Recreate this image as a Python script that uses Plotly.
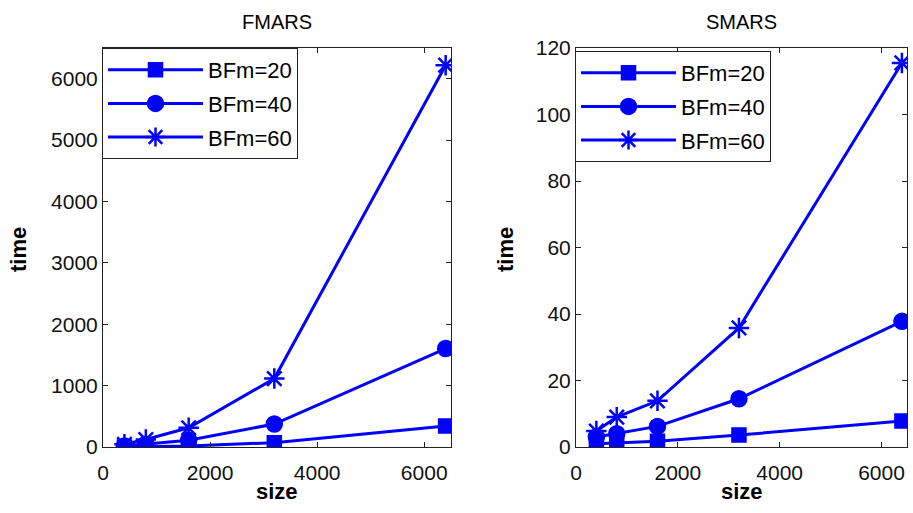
import plotly.graph_objects as go

sizes = [400, 800, 1600, 3200, 6400]
series_names = ["BFm=20", "BFm=40", "BFm=60"]
fmars_bfm20 = [2, 5, 16, 71, 341]
fmars_bfm40 = [16, 44, 110, 374, 1604]
fmars_bfm60 = [44, 121, 313, 1115, 6220]
smars_bfm20 = [1.0, 1.3, 1.7, 3.6, 7.8]
smars_bfm40 = [3.0, 4.0, 6.2, 14.5, 37.8]
smars_bfm60 = [4.8, 9.0, 13.9, 35.8, 115.5]

symbols = ["square", "circle", "asterisk-open"]
msizes = [13, 15, 17]
BLUE = "rgb(0,0,255)"
FONT = "Liberation Sans, Arial, sans-serif"

fig = go.Figure()
left = [fmars_bfm20, fmars_bfm40, fmars_bfm60]
right = [smars_bfm20, smars_bfm40, smars_bfm60]
for i, (name, ys) in enumerate(zip(series_names, left)):
    fig.add_trace(go.Scatter(
        x=sizes, y=ys, name=name, mode="lines+markers",
        line=dict(color=BLUE, width=3),
        marker=dict(symbol=symbols[i], size=msizes[i], color=BLUE,
                    line=dict(color=BLUE, width=2.5)),
        xaxis="x", yaxis="y", legend="legend", legendgroup="L%d" % i))
for i, (name, ys) in enumerate(zip(series_names, right)):
    fig.add_trace(go.Scatter(
        x=sizes, y=ys, name=name, mode="lines+markers",
        line=dict(color=BLUE, width=3),
        marker=dict(symbol=symbols[i], size=msizes[i], color=BLUE,
                    line=dict(color=BLUE, width=2.5)),
        xaxis="x2", yaxis="y2", legend="legend2", legendgroup="R%d" % i))

W, H = 913, 513
lx0, lx1 = 103 / W, 451 / W
rx0, rx1 = 576 / W, 907 / W
y0, y1 = 1 - 447 / H, 1 - 48 / H

axcommon = dict(showline=True, linecolor="#222", linewidth=1, mirror="ticks",
                ticks="inside", ticklen=5, tickcolor="#222", showgrid=False,
                zeroline=False, automargin=False,
                tickfont=dict(family=FONT, size=21, color="#111"))

fig.update_layout(
    width=W, height=H, margin=dict(l=0, r=0, t=0, b=0, autoexpand=False),
    paper_bgcolor="white", plot_bgcolor="white",
    xaxis=dict(domain=[lx0, lx1], range=[0, 6500], dtick=2000, anchor="y",
               ticklabelstandoff=7, **axcommon),
    yaxis=dict(domain=[y0, y1], range=[0, 6500], dtick=1000, anchor="x", **axcommon),
    xaxis2=dict(domain=[rx0, rx1], range=[0, 6500], dtick=2000, anchor="y2",
                ticklabelstandoff=7, **axcommon),
    yaxis2=dict(domain=[y0, y1], range=[0, 120], dtick=20, anchor="x2", **axcommon),
    legend=dict(x=102 / W, y=y1, xanchor="left", yanchor="top",
                bgcolor="white", bordercolor="#222", borderwidth=1,
                font=dict(family=FONT, size=22, color="black"),
                itemwidth=95, traceorder="grouped", tracegroupgap=2),
    legend2=dict(x=575 / W, y=1 - 51 / H, xanchor="left", yanchor="top",
                 bgcolor="white", bordercolor="#222", borderwidth=1,
                 font=dict(family=FONT, size=22, color="black"),
                 itemwidth=95, traceorder="grouped", tracegroupgap=2),
    showlegend=True,
)

ann_font = dict(family=FONT, size=20, color="black")
lab_font = dict(family=FONT, size=22, color="black")
anns = [
    dict(text="FMARS", x=(lx0 + lx1) / 2, y=1 - 22 / H, font=ann_font),
    dict(text="SMARS", x=(rx0 + rx1) / 2, y=1 - 22 / H, font=ann_font),
    dict(text="<b>size</b>", x=(lx0 + lx1) / 2, y=1 - 491 / H, font=lab_font),
    dict(text="<b>size</b>", x=(rx0 + rx1) / 2, y=1 - 491 / H, font=lab_font),
    dict(text="<b>time</b>", x=18 / W, y=1 - 250 / H, font=lab_font, textangle=-90),
    dict(text="<b>time</b>", x=505 / W, y=1 - 250 / H, font=lab_font, textangle=-90),
]
for a in anns:
    fig.add_annotation(xref="paper", yref="paper", showarrow=False,
                       xanchor="center", yanchor="middle", **a)

fig.write_html("out.html")
